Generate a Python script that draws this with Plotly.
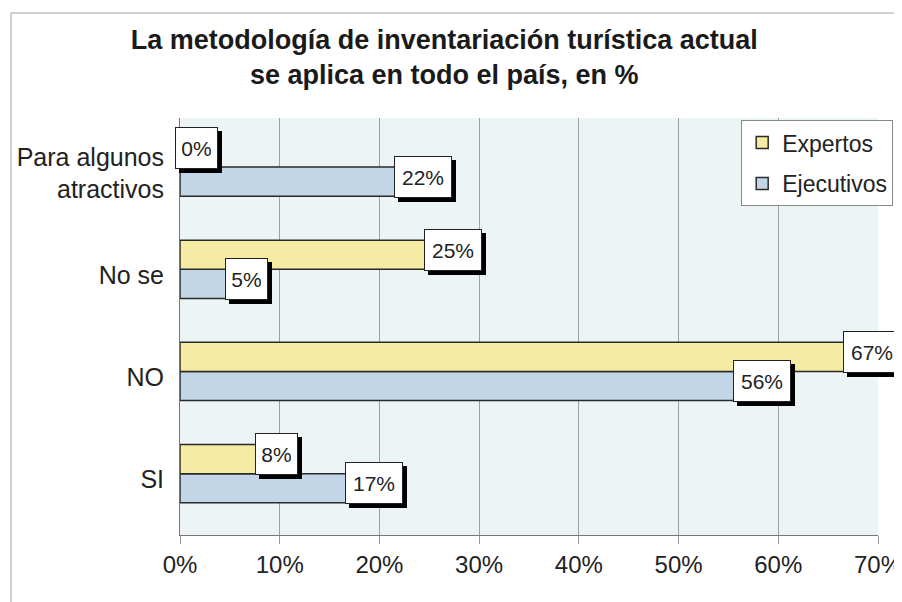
import plotly.graph_objects as go

# datos del gráfico
categorias = ['SI', 'NO', 'No se', 'Para algunos<br>atractivos']
expertos = [8, 67, 25, 0]
ejecutivos = [17, 56, 5, 22]
ticks_x = [0, 10, 20, 30, 40, 50, 60, 70]
ticks_x_txt = ['0%', '10%', '20%', '30%', '40%', '50%', '60%', '70%']

amarillo = '#F6EBA2'
azul = '#C2D6E7'
fuente = 'Liberation Sans, Arial, sans-serif'

pos = list(range(len(categorias)))

fig = go.Figure()
# Ejecutivos primero para que quede abajo en cada grupo
fig.add_trace(go.Bar(
    y=pos, x=ejecutivos, orientation='h', name='Ejecutivos', legendgroup='b', legendrank=2,
    marker=dict(color=azul, line=dict(color='#2a2a2a', width=1.5)),
    hovertemplate='%{y}: %{x}%<extra>Ejecutivos</extra>'
))
fig.add_trace(go.Bar(
    y=pos, x=expertos, orientation='h', name='Expertos', legendgroup='a', legendrank=1,
    marker=dict(color=amarillo, line=dict(color='#2a2a2a', width=1.5)),
    hovertemplate='%{y}: %{x}%<extra>Expertos</extra>'
))

# etiquetas: primero la sombra negra (sin texto), luego la caja blanca
anots = []
for capa in ['sombra', 'caja']:
    for serie, desplaz in [(ejecutivos, -9.5), (expertos, 19.5)]:
        for p, v in zip(pos, serie):
            txt = str(v) + '%'
            ancho = 44 if len(txt) > 2 else 29
            if capa == 'sombra':
                anots.append(dict(
                    x=v, y=p, xref='x', yref='y', text='&nbsp;', showarrow=False,
                    xanchor='left', yanchor='middle', xshift=-1, yshift=desplaz - 4,
                    width=ancho, height=28,
                    bgcolor='black', bordercolor='black', borderwidth=1, borderpad=6
                ))
            else:
                anots.append(dict(
                    x=v, y=p, xref='x', yref='y', text=txt, showarrow=False,
                    xanchor='left', yanchor='middle', xshift=-5, yshift=desplaz,
                    width=ancho, height=28,
                    font=dict(family=fuente, size=21, color='#222'),
                    bgcolor='white', bordercolor='#222', borderwidth=1, borderpad=6
                ))

# la página tiene 8px de margen en el body: la figura empieza en (8, 8)
fig.update_layout(
    width=894, height=594,
    margin=dict(l=172, r=24, t=110, b=67, autoexpand=False),
    paper_bgcolor='white',
    plot_bgcolor='#ECF4F6',
    barmode='group',
    bargap=0.43,
    bargroupgap=0,
    font=dict(family=fuente, color='#222'),
    title=dict(
        text='<b>La metodología de inventariación turística actual<br>se aplica en todo el país, en %</b>',
        x=0.488, xanchor='center', y=0.931, yanchor='top',
        font=dict(family=fuente, size=27, color='#1a1a1a')
    ),
    xaxis=dict(
        range=[0, 70], tickvals=ticks_x, ticktext=ticks_x_txt,
        showgrid=True, gridcolor='#a0a0a0', gridwidth=1,
        showline=True, linecolor='#777', linewidth=1,
        ticks='outside', ticklen=8, tickcolor='#999',
        tickfont=dict(size=24, color='#222'), zeroline=False,
        ticklabeloverflow='allow', automargin=False
    ),
    yaxis=dict(
        range=[-0.6, 3.48], tickvals=pos, ticktext=categorias,
        showgrid=False, zeroline=False,
        showline=True, linecolor='#777', linewidth=1,
        ticks='', ticklabelstandoff=10, ticklabelshift=6,
        tickfont=dict(size=25, color='#222'),
        automargin=False
    ),
    legend=dict(
        x=0.804, y=0.995, xanchor='left', yanchor='top',
        traceorder='grouped', tracegroupgap=8,
        bgcolor='white', bordercolor='#888', borderwidth=1,
        font=dict(family=fuente, size=23, color='#222')
    ),
    annotations=anots,
    shapes=[
        dict(type='line', xref='paper', yref='paper', x0=-0.242, x1=1.1, y0=1.252, y1=1.252,
             line=dict(color='#cfcfcf', width=2)),
        dict(type='line', xref='paper', yref='paper', x0=-0.242, x1=-0.242, y0=1.252, y1=-0.2,
             line=dict(color='#cfcfcf', width=2)),
    ]
)

fig.write_html('out.html')
